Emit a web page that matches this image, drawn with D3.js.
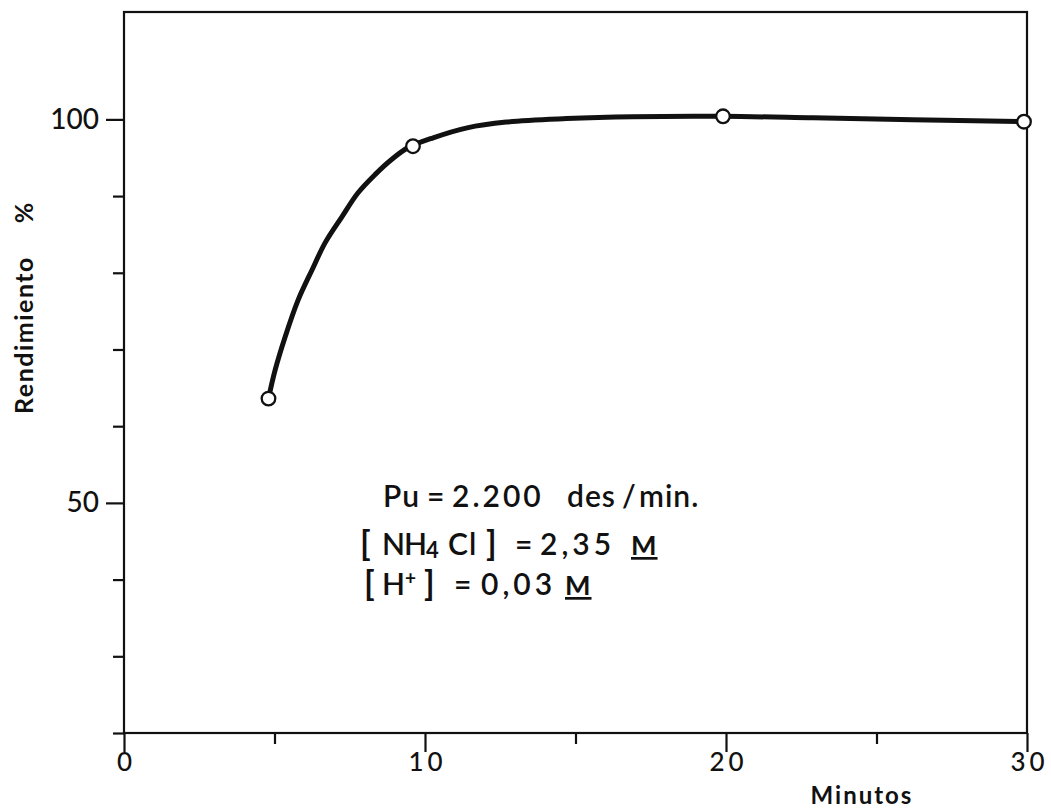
<!DOCTYPE html>
<html>
<head>
<meta charset="utf-8">
<script src="https://cdn.jsdelivr.net/npm/d3@7"></script>
<style>
  html, body { margin: 0; padding: 0; background: #fff; }
  svg { display: block; }
  text { font-family: Lato, "Liberation Sans", sans-serif; fill: #111; }
</style>
</head>
<body>
<svg id="chart" width="1051" height="808"></svg>
<script>
// ---- data ----
const minutos = [4.8, 9.6, 19.9, 29.9];
const rendimiento = [63.6, 96.5, 100.4, 99.7];
// the hand-drawn fitted curve of the original, read point by point
const curveX = [4.8, 5.02, 5.35, 5.78, 6.25, 6.68, 7.24, 7.77, 8.34, 8.9, 9.43, 10.27, 11.4, 12.7, 14.7, 16.9, 19.9, 22.9, 26.2, 29.9];
const curveY = [63.6, 67.3, 71.6, 76.4, 80.4, 83.9, 87.3, 90.4, 92.8, 94.8, 96.3, 97.6, 98.9, 99.65, 100.1, 100.35, 100.4, 100.2, 99.95, 99.7];
const xMajorTicks = [0, 10, 20, 30];
const xMinorTicks = [5, 15, 25];
const yMajorTicks = [50, 100];
const yMinorTicks = [20, 30, 40, 60, 70, 80, 90];
const xTitle = "Minutos";
const yTitle = "Rendimiento";
const yUnit = "%";

const svg = d3.select("#chart");
const x = d3.scaleLinear().domain([0, 30]).range([124, 1027]);
const y = d3.scaleLinear().domain([20, 114]).range([733, 12]);

const ink = "#111";
const font = "Lato, 'Liberation Sans', sans-serif";

// frame
svg.append("rect")
  .attr("x", x(0)).attr("y", y(114))
  .attr("width", x(30) - x(0)).attr("height", y(20) - y(114))
  .attr("fill", "none").attr("stroke", ink).attr("stroke-width", 2.2);

function styleAxis(g) {
  g.select(".domain").remove();
  g.selectAll(".tick line").attr("stroke", ink).attr("stroke-width", 2.2);
}

// x axis
svg.append("g").attr("transform", `translate(0,${y(20)})`)
  .call(d3.axisBottom(x).tickValues(xMinorTicks).tickSize(11).tickFormat(""))
  .call(styleAxis);
svg.append("g").attr("transform", `translate(0,${y(20)})`)
  .call(d3.axisBottom(x).tickValues(xMajorTicks).tickSize(19).tickPadding(1).tickFormat(d3.format("d")))
  .call(styleAxis)
  .call(g => g.selectAll(".tick text").attr("font-size", 26).attr("fill", ink)
      .attr("font-family", font).attr("font-weight", 500)
      .attr("letter-spacing", 4).attr("dx", 2));

// y axis
svg.append("g").attr("transform", `translate(${x(0)},0)`)
  .call(d3.axisLeft(y).tickValues(yMinorTicks).tickSize(11).tickFormat(""))
  .call(styleAxis);
svg.append("g").attr("transform", `translate(${x(0)},0)`)
  .call(d3.axisLeft(y).tickValues(yMajorTicks).tickSize(18).tickPadding(7).tickFormat(d3.format("d")))
  .call(styleAxis)
  .call(g => g.selectAll(".tick text").attr("font-size", 28).attr("fill", ink)
      .attr("font-family", font).attr("font-weight", 500));

// axis titles
svg.append("text").attr("x", 862).attr("y", 804).attr("text-anchor", "middle")
  .attr("font-size", 24).attr("font-weight", 700).attr("letter-spacing", 2).text(xTitle);

svg.append("text").attr("transform", "translate(33,335) rotate(-90)")
  .attr("text-anchor", "middle").attr("font-size", 25).attr("font-weight", 700)
  .attr("letter-spacing", 1.5).text(yTitle);
svg.append("text").attr("transform", "translate(33,213) rotate(-90)")
  .attr("text-anchor", "middle").attr("font-size", 25).attr("font-weight", 700).text(yUnit);

// curve
const curvePts = curveX.map((d, i) => [d, curveY[i]]);
svg.append("path").datum(curvePts)
  .attr("d", d3.line().x(d => x(d[0])).y(d => y(d[1])).curve(d3.curveCatmullRom.alpha(0.5)))
  .attr("fill", "none").attr("stroke", ink).attr("stroke-width", 5).attr("stroke-linecap", "round");

// points
svg.append("g").selectAll("circle")
  .data(minutos.map((d, i) => [d, rendimiento[i]]))
  .join("circle")
  .attr("cx", d => x(d[0])).attr("cy", d => y(d[1])).attr("r", 6.8)
  .attr("fill", "#fff").attr("stroke", ink).attr("stroke-width", 2.3);

// annotation
const fs = 30;
const fw = 600;
const bfs = 34;
const t1 = svg.append("text").attr("y", 507).attr("font-size", fs).attr("font-weight", fw).attr("letter-spacing", 1);
t1.append("tspan").attr("x", 383).text("Pu");
t1.append("tspan").attr("x", 427).text("=");
t1.append("tspan").attr("x", 452).attr("letter-spacing", 3).text("2.200");
t1.append("tspan").attr("x", 567).text("des");
t1.append("tspan").attr("x", 622).text("/");
t1.append("tspan").attr("x", 639).text("min.");

const t2 = svg.append("text").attr("y", 555).attr("font-size", fs).attr("font-weight", fw).attr("letter-spacing", 1);
t2.append("tspan").attr("x", 360).attr("font-size", bfs).attr("font-weight", 700).text("[");
t2.append("tspan").attr("x", 382).text("N");
t2.append("tspan").attr("x", 404).text("H");
t2.append("tspan").attr("x", 426).attr("dy", 3).attr("font-size", 22).attr("font-weight", 700).text("4");
t2.append("tspan").attr("x", 448).attr("dy", -3).text("C");
t2.append("tspan").attr("x", 469).text("l");
t2.append("tspan").attr("x", 486).attr("font-size", bfs).attr("font-weight", 700).text("]");
t2.append("tspan").attr("x", 515).text("=");
t2.append("tspan").attr("x", 540).attr("letter-spacing", 4).text("2,35");
t2.append("tspan").attr("x", 631).attr("font-size", 27).attr("font-weight", 700).attr("text-decoration", "underline").text("M");

const t3 = svg.append("text").attr("y", 595).attr("font-size", fs).attr("font-weight", fw).attr("letter-spacing", 1);
t3.append("tspan").attr("x", 364).attr("font-size", bfs).attr("font-weight", 700).text("[");
t3.append("tspan").attr("x", 382).text("H");
t3.append("tspan").attr("x", 405).attr("dy", -10).attr("font-size", 19).attr("font-weight", 700).text("+");
t3.append("tspan").attr("x", 424).attr("dy", 10).attr("font-size", bfs).attr("font-weight", 700).text("]");
t3.append("tspan").attr("x", 454).text("=");
t3.append("tspan").attr("x", 481).attr("letter-spacing", 4).text("0,03");
t3.append("tspan").attr("x", 565).attr("font-size", 27).attr("font-weight", 700).attr("text-decoration", "underline").text("M");
</script>
</body>
</html>
